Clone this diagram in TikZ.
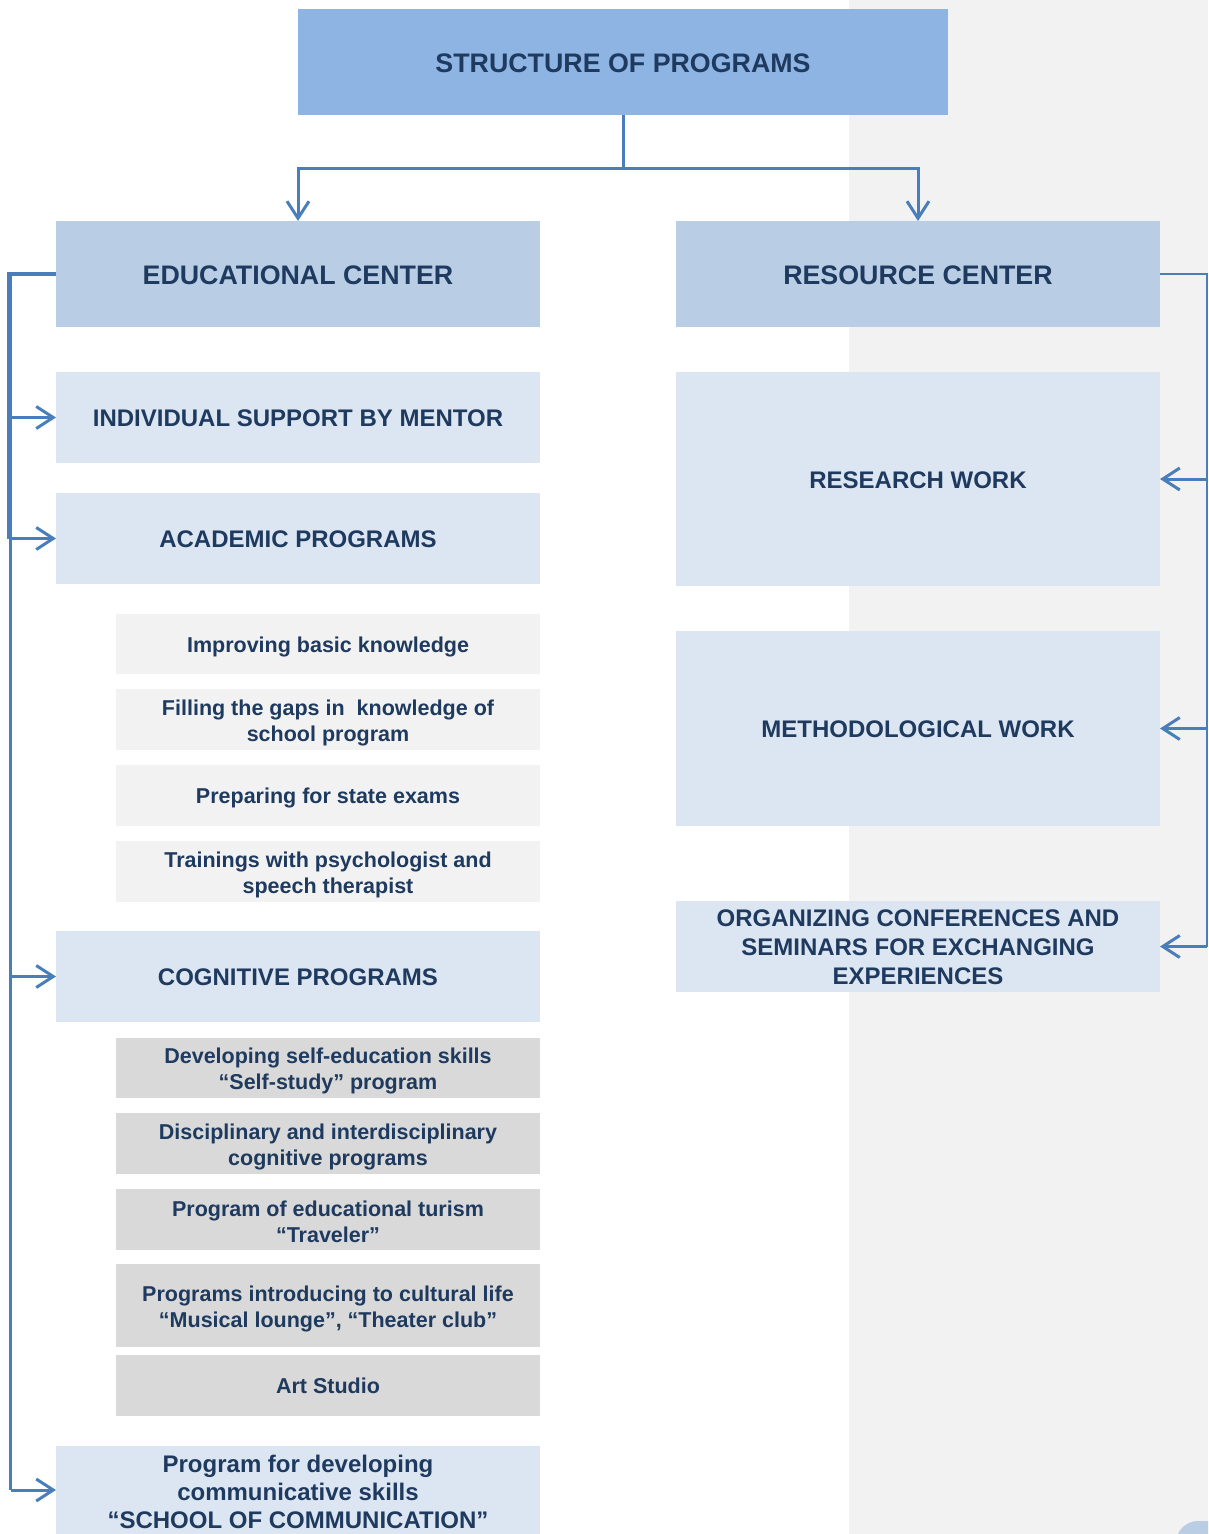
\documentclass[tikz,border=0pt]{standalone}
\usepackage{fontspec}
\setmainfont{Liberation Sans}
\usetikzlibrary{arrows.meta}
\definecolor{bgg}{HTML}{F2F2F2}
\definecolor{topc}{HTML}{8EB4E3}
\definecolor{midc}{HTML}{B9CDE5}
\definecolor{lightc}{HTML}{DCE6F2}
\definecolor{grayA}{HTML}{F2F2F2}
\definecolor{grayB}{HTML}{D9D9D9}
\definecolor{linec}{HTML}{4A7EBB}
\definecolor{txtc}{HTML}{1F3A5F}
\begin{document}
\begin{tikzpicture}[x=1pt,y=-1pt,
  box/.style={inner sep=0pt, outer sep=0pt},
  txt/.style={inner sep=0pt, align=center, text=txtc},
  bigtxt/.style={txt, yshift=-1.5pt, font=\bfseries\fontsize{26.8}{31}\selectfont},
  medtxt/.style={txt, yshift=-1pt, font=\bfseries\fontsize{24}{29}\selectfont},
  commtxt/.style={txt, yshift=-2pt, font=\bfseries\fontsize{24}{28}\selectfont},
  smalltxt/.style={txt, yshift=-3pt, font=\bfseries\fontsize{21.5}{26}\selectfont},
  mainbox/.style={box, minimum width=484, fill=lightc},
  subA/.style={box, minimum width=424, fill=grayA},
  subB/.style={box, minimum width=424, fill=grayB},
  conn/.style={draw=linec, line width=3pt},
  arr/.style={conn, -{Straight Barb[length=17pt,width=22pt,line width=3pt]}}
]
\useasboundingbox (0,0) rectangle (1208,1534);
\begin{scope}
\clip (0,0) rectangle (1208,1534);
\fill[bgg] (849,0) rectangle (1208,1534);
\fill[midc, rounded corners=22pt] (1176,1521) rectangle (1260,1580);
\end{scope}

% nodes
\node[box, fill=topc, minimum width=650, minimum height=106,
  label={[bigtxt]center:{STRUCTURE OF PROGRAMS}}] (top) at (623,62) {};
\node[box, fill=midc, minimum width=484, minimum height=106,
  label={[bigtxt]center:{EDUCATIONAL CENTER}}] (ec) at (298,274) {};
\node[box, fill=midc, minimum width=484, minimum height=106,
  label={[bigtxt]center:{RESOURCE CENTER}}] (rc) at (918,274) {};

\node[mainbox, minimum height=91,
  label={[medtxt]center:{INDIVIDUAL SUPPORT BY MENTOR}}] (ind) at (298,417.5) {};
\node[mainbox, minimum height=91,
  label={[medtxt]center:{ACADEMIC PROGRAMS}}] (acad) at (298,538.5) {};
\node[subA, minimum height=60,
  label={[smalltxt]center:{Improving basic knowledge}}] (a1) at (328,644) {};
\node[subA, minimum height=61,
  label={[smalltxt]center:{Filling the gaps in\ \ knowledge of\\school program}}] (a2) at (328,719.5) {};
\node[subA, minimum height=61,
  label={[smalltxt, yshift=1pt]center:{Preparing for state exams}}] (a3) at (328,795.5) {};
\node[subA, minimum height=61,
  label={[smalltxt]center:{Trainings with psychologist and\\speech therapist}}] (a4) at (328,871.5) {};

\node[mainbox, minimum height=91,
  label={[medtxt]center:{COGNITIVE PROGRAMS}}] (cog) at (298,976.5) {};
\node[subB, minimum height=60,
  label={[smalltxt]center:{Developing self-education skills\\“Self-study” program}}] (c1) at (328,1068) {};
\node[subB, minimum height=61,
  label={[smalltxt]center:{Disciplinary and interdisciplinary\\cognitive programs}}] (c2) at (328,1143.5) {};
\node[subB, minimum height=61,
  label={[smalltxt, yshift=1pt]center:{Program of educational turism\\“Traveler”}}] (c3) at (328,1219.5) {};
\node[subB, minimum height=83,
  label={[smalltxt]center:{Programs introducing to cultural life\\“Musical lounge”, “Theater club”}}] (c4) at (328,1305.5) {};
\node[subB, minimum height=61,
  label={[smalltxt, yshift=3pt]center:{Art Studio}}] (c5) at (328,1385.5) {};

\node[mainbox, minimum height=88,
  label={[commtxt]center:{Program for developing\\communicative skills\\“SCHOOL OF COMMUNICATION”}}] (comm) at (298,1490) {};

\node[mainbox, minimum height=214,
  label={[medtxt]center:{RESEARCH WORK}}] (res) at (918,479) {};
\node[mainbox, minimum height=195,
  label={[medtxt]center:{METHODOLOGICAL WORK}}] (meth) at (918,728.5) {};
\node[mainbox, minimum height=91,
  label={[medtxt]center:{ORGANIZING CONFERENCES AND\\SEMINARS FOR EXCHANGING\\EXPERIENCES}}] (org) at (918,946.5) {};

% connectors
\coordinate (J) at (623,168);
\draw[conn] (top.south) -- (J);
\draw[arr] (J) -| (ec.north);
\draw[arr] (J) -| (rc.north);

\coordinate (L) at (9.5,0);
\coordinate (L2) at (10.5,0);
\draw[draw=linec, line width=4.5pt] (ec.west) -- (ec.west -| L) -- (acad.west -| L);
\draw[conn] (acad.west -| L2) -- (comm.west -| L2);
\draw[arr] (ind.west -| L) -- (ind.west);
\draw[arr] (acad.west -| L) -- (acad.west);
\draw[arr] (cog.west -| L2) -- (cog.west);
\draw[arr] (comm.west -| L2) -- (comm.west);

\coordinate (R) at (1206.8,0);
\draw[draw=linec, line width=2.5pt] (rc.east) -- (rc.east -| R) -- (org.east -| R);
\draw[arr] (res.east -| R) -- (res.east);
\draw[arr] (meth.east -| R) -- (meth.east);
\draw[arr] (org.east -| R) -- (org.east);
\end{tikzpicture}
\end{document}
